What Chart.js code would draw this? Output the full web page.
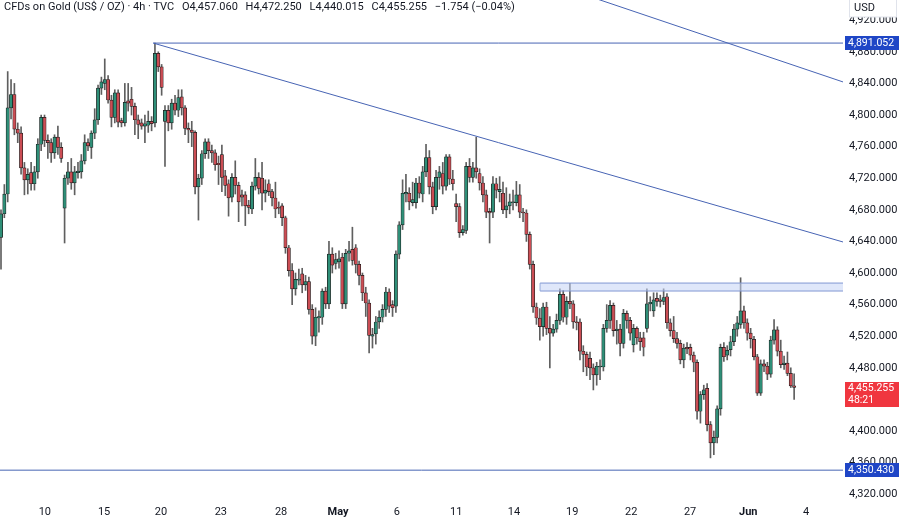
<!DOCTYPE html>
<html>
<head>
<meta charset="utf-8">
<title>CFDs on Gold 4h</title>
<script src="https://cdn.jsdelivr.net/npm/chart.js@4.4.1/dist/chart.umd.min.js"></script>
<style>
    body { margin: 0; background: #fff; }
    #wrap { position: relative; width: 900px; height: 520px; }
    #header {
        position: absolute; left: 4px; top: 0;
        font: 11px Roboto, "Noto Sans", sans-serif; color: #131722;
        white-space: nowrap; line-height: 13px;
    }
    #header span { margin-left: 5px; }
</style>
</head>
<body>
<div id="wrap">
    <canvas id="goldChart"></canvas>
    <div id="header">CFDs on Gold (US$ / OZ) · 4h · TVC <span>O4,457.060</span> <span>H4,472.250</span> <span>L4,440.015</span> <span>C4,455.255</span> <span>−1.754 (−0.04%)</span></div>
</div>
<script>
// 4h candles (oldest first)
const opens = [
    4645,4675,4700,4809,4826,4782,4777,4733,4718,4727,
    4713,4728,4763,4797,4768,4765,4752,4772,4759,4682,
    4720,4728,4714,4727,4728,4742,4765,4759,4777,4794,
    4834,4840,4845,4819,4797,4828,4793,4790,4818,4820,
    4811,4794,4790,4786,4787,4792,4790,4878,4861,4792,
    4806,4790,4815,4806,4823,4809,4783,4781,4778,4709,
    4720,4751,4766,4755,4752,4739,4750,4723,4713,4696,
    4721,4711,4699,4699,4686,4681,4710,4721,4720,4701,
    4713,4703,4695,4683,4685,4670,4632,4603,4580,4591,
    4599,4585,4589,4554,4520,4543,4544,4577,4561,4624,
    4612,4614,4620,4561,4625,4630,4632,4611,4597,4575,
    4562,4520,4523,4538,4544,4554,4576,4560,4558,4624,
    4661,4700,4701,4689,4689,4714,4700,4728,4746,4709,
    4684,4721,4726,4710,4747,4719,4688,4684,4651,4654,
    4735,4721,4733,4726,4714,4699,4678,4677,4713,4703,
    4701,4680,4685,4689,4689,4699,4677,4676,4649,4611,
    4557,4543,4532,4557,4530,4524,4529,4540,4573,4544,
    4564,4561,4538,4538,4501,4497,4492,4480,4471,4481,
    4481,4530,4540,4559,4527,4529,4511,4549,4540,4509,
    4530,4518,4518,4530,4561,4552,4568,4566,4564,4570,
    4537,4527,4517,4511,4490,4506,4506,4496,4487,4425,
    4446,4454,4408,4385,4392,4428,4506,4496,4503,4513,
    4529,4535,4552,4537,4524,4516,4494,4448,4485,4482,
    4472,4515,4528,4501,4484,4486,4473,4457.06
];
const highs = [
    4680,4712,4855,4845,4840,4790,4785,4740,4732,4740,
    4735,4770,4800,4800,4775,4770,4775,4786,4765,4724,
    4740,4745,4735,4740,4750,4775,4770,4780,4808,4838,
    4848,4871,4850,4825,4832,4832,4796,4840,4840,4835,
    4815,4800,4795,4800,4805,4798,4891.052,4880,4864,4812,
    4812,4820,4825,4832,4832,4812,4790,4792,4780,4725,
    4755,4770,4770,4762,4756,4748,4762,4730,4718,4726,
    4742,4715,4705,4703,4692,4715,4745,4727,4740,4718,
    4718,4706,4715,4690,4688,4672,4635,4612,4600,4605,
    4606,4597,4595,4560,4556,4552,4580,4582,4640,4632,
    4625,4628,4625,4630,4640,4658,4636,4615,4600,4582,
    4566,4530,4545,4552,4560,4582,4580,4565,4628,4665,
    4718,4725,4708,4715,4720,4722,4735,4763,4755,4715,
    4730,4735,4740,4750,4750,4730,4700,4688,4660,4740,
    4745,4740,4772,4732,4722,4705,4682,4722,4720,4722,
    4715,4708,4700,4705,4716,4712,4682,4680,4652,4615,
    4562,4555,4562,4563,4545,4535,4548,4580,4578,4570,
    4587,4565,4545,4542,4508,4500,4500,4485,4487,4490,
    4535,4560,4565,4562,4540,4535,4554,4552,4544,4535,
    4532,4525,4525,4580,4570,4575,4575,4572,4580,4574,
    4542,4545,4525,4515,4510,4512,4510,4500,4490,4450,
    4458,4460,4412,4400,4432,4510,4512,4508,4520,4535,
    4545,4594,4558,4542,4530,4520,4497,4490,4490,4487,
    4520,4541,4532,4515,4495,4500,4480,4472.25
];
const lows = [
    4605,4670,4690,4795,4775,4765,4725,4699,4700,4705,
    4705,4720,4755,4760,4745,4740,4745,4750,4740,4638,
    4712,4706,4699,4720,4720,4738,4755,4745,4770,4788,
    4826,4832,4815,4785,4790,4785,4785,4786,4805,4800,
    4775,4770,4782,4765,4778,4780,4785,4855,4825,4735,
    4780,4782,4800,4798,4800,4775,4765,4760,4700,4667,
    4712,4745,4745,4740,4730,4712,4703,4698,4672,4690,
    4700,4665,4685,4660,4675,4675,4705,4700,4680,4690,
    4698,4685,4670,4675,4660,4625,4596,4560,4572,4585,
    4575,4578,4548,4510,4508,4525,4535,4555,4555,4600,
    4605,4606,4555,4555,4615,4610,4600,4585,4565,4545,
    4499,4505,4510,4530,4538,4545,4550,4545,4550,4618,
    4655,4690,4680,4685,4682,4695,4690,4722,4700,4675,
    4680,4706,4700,4705,4712,4705,4665,4645,4648,4650,
    4715,4715,4720,4705,4690,4670,4638,4670,4695,4690,
    4675,4670,4675,4680,4685,4670,4665,4640,4605,4550,
    4535,4515,4520,4522,4480,4520,4525,4535,4538,4535,
    4555,4530,4528,4490,4475,4470,4465,4452,4458,4465,
    4476,4525,4530,4520,4510,4495,4505,4530,4515,4500,
    4510,4502,4495,4525,4552,4545,4558,4557,4560,4530,
    4520,4512,4505,4485,4480,4498,4490,4475,4415,4410,
    4440,4400,4366,4370,4385,4420,4488,4490,4495,4508,
    4520,4530,4530,4515,4505,4490,4445,4445,4475,4465,
    4468,4510,4495,4480,4478,4470,4455,4440.015
];
const closes = [
    4675,4700,4809,4826,4782,4777,4733,4718,4725,4713,
    4728,4763,4797,4768,4765,4752,4772,4759,4745,4720,
    4728,4714,4728,4729,4742,4765,4761,4777,4794,4834,
    4842,4845,4819,4797,4828,4791,4790,4816,4815,4811,
    4794,4788,4786,4789,4792,4789,4878,4861,4835,4806,
    4790,4815,4806,4822,4809,4783,4781,4778,4709,4720,
    4751,4766,4755,4752,4737,4737,4721,4711,4695,4721,
    4711,4690,4696,4685,4683,4710,4721,4707,4701,4705,
    4703,4695,4681,4682,4670,4632,4603,4580,4592,4592,
    4585,4589,4554,4520,4544,4545,4577,4561,4624,4610,
    4617,4618,4561,4625,4628,4616,4611,4597,4575,4562,
    4521,4522,4538,4544,4554,4576,4558,4556,4624,4661,
    4701,4702,4690,4693,4714,4701,4728,4746,4709,4684,
    4721,4728,4710,4747,4719,4713,4684,4651,4655,4735,
    4721,4733,4728,4714,4699,4677,4676,4713,4705,4706,
    4680,4685,4690,4690,4699,4677,4676,4649,4611,4557,
    4543,4532,4557,4530,4524,4529,4540,4573,4544,4564,
    4561,4538,4537,4501,4497,4481,4480,4471,4482,4482,
    4530,4540,4559,4527,4529,4511,4549,4540,4524,4530,
    4518,4513,4506,4561,4563,4566,4564,4564,4569,4537,
    4527,4517,4511,4490,4505,4504,4496,4487,4425,4446,
    4452,4408,4385,4392,4428,4506,4494,4502,4513,4529,
    4537,4552,4537,4524,4517,4494,4448,4485,4482,4472,
    4515,4528,4501,4484,4486,4473,4457,4455.255
];

// day labels on the time axis (candle index where they sit)
const dayTickIdx  = [13.1, 30.8, 47.8, 65.7, 83.7, 100.7, 118.3, 136.0, 153.3, 170.7, 188.3, 205.9, 223.3, 240.6];
const dayTickText = ['10', '15', '20', '23', '28', 'May', '6', '11', '14', '19', '22', '27', 'Jun', '4'];
const priceTicks  = [4320, 4360, 4400, 4440, 4480, 4520, 4560, 4600, 4640, 4680, 4720, 4760, 4800, 4840, 4880, 4920];

// drawings: horizontal levels, trend lines, resistance zone
const levelPrices = [4891.052, 4350.430];
const levelFrom   = [45.5, -1];
const trendLowX   = [45.5, 252];
const trendLowY   = [4891.05, 4638.8];
const trendHighX  = [170, 252];
const trendHighY  = [4958.5, 4841.3];
const zoneX       = [161.1, 252];
const zoneY       = [4577.2, 4587.3];

const countdown = '48:21';
const xRange = [-0.3, 251.6];
const yRange = [4315.2, 4945.6];

const upColor = '#2f8f78';
const downColor = '#cb4d54';
const lineBlue = '#4764b4';

function fmt(v) {
    return v.toLocaleString('en-US', { minimumFractionDigits: 3, maximumFractionDigits: 3 });
}

const isUp = closes.map((c, i) => c >= opens[i]);
const wickData = highs.map((h, i) => ({ x: i, y: [lows[i], h] }));
const bodyData = closes.map((c, i) => ({ x: i, y: [opens[i], c] }));

function seg(xs, ys) {
    return xs.map((x, i) => ({ x: x, y: ys[i] }));
}
function lineSet(data, extra) {
    return Object.assign({
        type: 'line', data: data, borderColor: lineBlue, borderWidth: 1,
        pointRadius: 0, fill: false, order: 1
    }, extra || {});
}

// price boxes on the right scale + USD box
const priceTags = {
    id: 'priceTags',
    afterDraw(chart) {
        const { ctx, chartArea } = chart;
        const y = chart.scales.y;
        const left = chartArea.right + 2;
        const w = chart.width - left - 1;
        ctx.save();
        ctx.font = '10.5px Roboto, "Noto Sans", sans-serif';
        ctx.textBaseline = 'middle';
        ctx.textAlign = 'left';

        levelPrices.forEach(v => {
            const py = Math.round(y.getPixelForValue(v));
            ctx.fillStyle = '#1f46c6';
            ctx.fillRect(left, py - 7, w, 14);
            ctx.fillStyle = '#ffffff';
            ctx.fillText(fmt(v), left + 3, py + 0.5);
        });

        const last = closes[closes.length - 1];
        const py = Math.round(y.getPixelForValue(last));
        ctx.fillStyle = '#f0363f';
        ctx.fillRect(left, py - 5, w, 25);
        ctx.fillStyle = '#ffffff';
        ctx.fillText(fmt(last), left + 3, py + 1.5);
        ctx.fillText(countdown, left + 3, py + 13.5);

        // USD unit box
        ctx.fillStyle = '#ffffff';
        ctx.fillRect(left + 4, 0, w - 6, 17);
        ctx.strokeStyle = '#e0e3eb';
        ctx.lineWidth = 1;
        ctx.strokeRect(left + 4.5, -1, w - 7, 18);
        ctx.fillStyle = '#131722';
        ctx.font = '11px Roboto, "Noto Sans", sans-serif';
        ctx.fillText('USD', left + 9, 8);
        ctx.restore();
    }
};

const ctx = document.getElementById('goldChart').getContext('2d');
new Chart(ctx, {
    type: 'bar',
    data: {
        datasets: [
            {
                label: 'wicks', data: wickData, grouped: false, order: 3,
                barThickness: 1, borderWidth: 0,
                backgroundColor: '#5f5f5f'
            },
            {
                label: 'bodies', data: bodyData, grouped: false, order: 2,
                barThickness: 3.3, minBarLength: 1,
                backgroundColor: isUp.map(u => u ? upColor : downColor),
                borderColor: '#1d1d1d', borderWidth: 0.7, borderSkipped: false
            },
            lineSet(seg(trendLowX, trendLowY)),
            lineSet(seg(trendHighX, trendHighY)),
            lineSet(seg([levelFrom[0], xRange[1] + 1], [levelPrices[0], levelPrices[0]])),
            lineSet(seg([levelFrom[1], xRange[1] + 1], [levelPrices[1], levelPrices[1]])),
            lineSet(seg(zoneX, [zoneY[1], zoneY[1]]), { borderColor: '#8198d2' }),
            lineSet(seg(zoneX, [zoneY[0], zoneY[0]]), {
                borderColor: '#8198d2', fill: '-1', backgroundColor: 'rgba(196, 211, 245, 0.55)'
            }),
            lineSet(seg([zoneX[0], zoneX[0]], zoneY), { borderColor: '#8198d2' })
        ]
    },
    options: {
        responsive: true,
        maintainAspectRatio: false,
        animation: false,
        layout: { padding: 0 },
        plugins: {
            legend: { display: false },
            tooltip: { enabled: false }
        },
        scales: {
            x: {
                type: 'linear',
                min: xRange[0],
                max: xRange[1],
                offset: false,
                grid: { display: false, drawTicks: false },
                border: { display: false },
                afterFit(scale) {
                    scale.height = 22;
                    scale.paddingLeft = 0;
                    scale.paddingRight = 0;
                },
                afterBuildTicks(scale) {
                    scale.ticks = dayTickIdx.map(v => ({ value: v }));
                },
                ticks: {
                    autoSkip: false,
                    maxRotation: 0,
                    padding: 8,
                    color: '#131722',
                    font: (c) => ({
                        size: 11,
                        family: 'Roboto, "Noto Sans", sans-serif',
                        weight: /^[A-Z]/.test(dayTickText[c.index] || '') ? 'bold' : 'normal'
                    }),
                    callback: (val, i) => dayTickText[i]
                }
            },
            y: {
                position: 'right',
                min: yRange[0],
                max: yRange[1],
                grid: { display: false, drawTicks: false },
                border: { display: false },
                afterFit(scale) {
                    scale.width = 57;
                    scale.paddingTop = 0;
                    scale.paddingBottom = 0;
                },
                afterBuildTicks(scale) {
                    scale.ticks = priceTicks.map(v => ({ value: v }));
                },
                ticks: {
                    padding: 6,
                    color: '#131722',
                    font: { size: 11, family: 'Roboto, "Noto Sans", sans-serif' },
                    callback: (v) => fmt(v)
                }
            }
        }
    },
    plugins: [priceTags]
});
</script>
</body>
</html>
